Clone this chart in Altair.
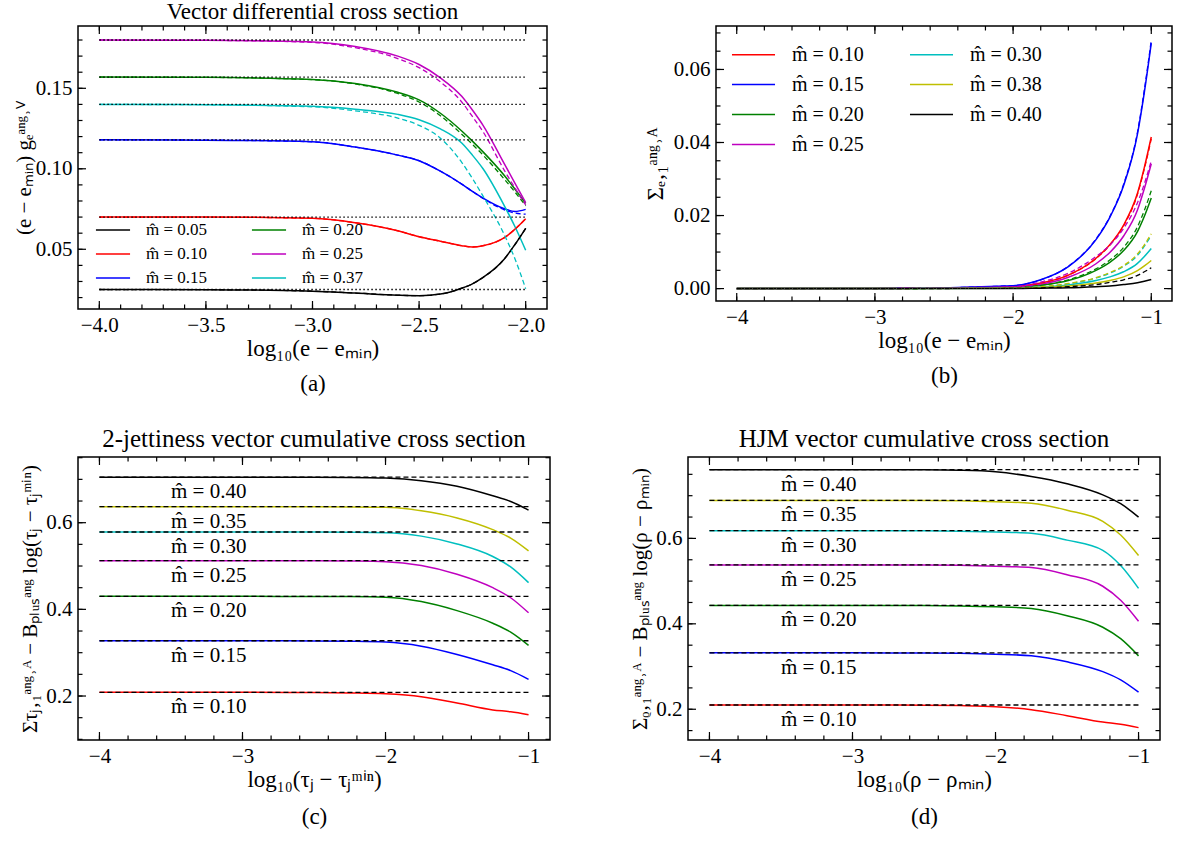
import altair as alt
import pandas as pd

FONT = "Liberation Serif"
R, B, G, M, C, Y, K = "#ff0000", "#0000ff", "#008000", "#bf00bf", "#00bfbf", "#bfbf00", "#000000"

# ---------------- panel (a) data ----------------
A_X = [-4.0, -3.5, -3.0, -2.8, -2.6, -2.5, -2.4, -2.3, -2.25, -2.2, -2.1, -2.05, -2.0]
A_SOLID = {
    "m̂ = 0.05": [0.0250, 0.0249, 0.0240, 0.0228, 0.0215, 0.0212, 0.0222, 0.0258, 0.0285, 0.0325, 0.0440, 0.0530, 0.0630],
    "m̂ = 0.10": [0.0700, 0.0700, 0.0692, 0.0665, 0.0615, 0.0578, 0.0550, 0.0522, 0.0514, 0.0522, 0.0572, 0.0625, 0.0690],
    "m̂ = 0.15": [0.1180, 0.1178, 0.1168, 0.1135, 0.1085, 0.1050, 0.0985, 0.0905, 0.0860, 0.0818, 0.0752, 0.0735, 0.0748],
    "m̂ = 0.20": [0.1570, 0.1568, 0.1555, 0.1530, 0.1475, 0.1428, 0.1345, 0.1235, 0.1172, 0.1105, 0.0958, 0.0873, 0.0785],
    "m̂ = 0.25": [0.1800, 0.1798, 0.1788, 0.1760, 0.1700, 0.1648, 0.1565, 0.1450, 0.1365, 0.1270, 0.1030, 0.0910, 0.0790],
    "m̂ = 0.37": [0.1400, 0.1398, 0.1388, 0.1370, 0.1338, 0.1305, 0.1248, 0.1160, 0.1085, 0.1000, 0.0770, 0.0640, 0.0494],
}
A_DASHED = {
    "m̂ = 0.05": [0.0250, 0.0249, 0.0240, 0.0228, 0.0215, 0.0212, 0.0222, 0.0258, 0.0285, 0.0325, 0.0440, 0.0530, 0.0630],
    "m̂ = 0.10": [0.0700, 0.0700, 0.0692, 0.0665, 0.0615, 0.0578, 0.0550, 0.0522, 0.0514, 0.0522, 0.0572, 0.0625, 0.0690],
    "m̂ = 0.15": [0.1180, 0.1178, 0.1168, 0.1135, 0.1085, 0.1050, 0.0985, 0.0905, 0.0860, 0.0816, 0.0745, 0.0725, 0.0718],
    "m̂ = 0.20": [0.1570, 0.1568, 0.1554, 0.1527, 0.1468, 0.1415, 0.1330, 0.1215, 0.1152, 0.1085, 0.0935, 0.0855, 0.0770],
    "m̂ = 0.25": [0.1800, 0.1798, 0.1785, 0.1752, 0.1685, 0.1628, 0.1540, 0.1415, 0.1325, 0.1230, 0.0990, 0.0880, 0.0775],
    "m̂ = 0.37": [0.1400, 0.1398, 0.1385, 0.1360, 0.1315, 0.1270, 0.1190, 0.1040, 0.0940, 0.0830, 0.0590, 0.0440, 0.0255],
}
A_DOTTED = [0.025, 0.070, 0.118, 0.140, 0.157, 0.180]
A_ORDER = ["m̂ = 0.05", "m̂ = 0.10", "m̂ = 0.15", "m̂ = 0.20", "m̂ = 0.25", "m̂ = 0.37"]
A_COLORS = [K, R, B, G, M, C]
A_XTICKS = [-4.0, -3.5, -3.0, -2.5, -2.0]
A_YTICKS = [0.05, 0.10, 0.15]

# ---------------- panel (b) data ----------------
B_X = [-4.0, -3.0, -2.0, -1.8, -1.6, -1.4, -1.3, -1.2, -1.1, -1.05, -1.0]
B_SOLID = {
    "m̂ = 0.10": [0, 0, 0.0005, 0.0015, 0.0037, 0.0083, 0.0120, 0.0174, 0.0261, 0.0332, 0.0415],
    "m̂ = 0.15": [0, 0, 0.0008, 0.0024, 0.0060, 0.0134, 0.0195, 0.0282, 0.0423, 0.0538, 0.0672],
    "m̂ = 0.20": [0, 0, 0.0003, 0.0009, 0.0022, 0.0050, 0.0072, 0.0104, 0.0156, 0.0198, 0.0248],
    "m̂ = 0.25": [0, 0, 0.0004, 0.0012, 0.0031, 0.0068, 0.0099, 0.0144, 0.0215, 0.0274, 0.0342],
    "m̂ = 0.30": [0, 0, 0.0001, 0.0004, 0.0010, 0.0022, 0.0032, 0.0046, 0.0069, 0.0088, 0.0110],
    "m̂ = 0.38": [0, 0, 0.0001, 0.0003, 0.0007, 0.0015, 0.0022, 0.0032, 0.0049, 0.0062, 0.0077],
    "m̂ = 0.40": [0, 0, 0.0000, 0.0001, 0.0002, 0.0005, 0.0007, 0.0011, 0.0016, 0.0020, 0.0025],
}
B_DASHED = {
    "m̂ = 0.10": [0, 0, 0.0005, 0.0015, 0.0037, 0.0082, 0.0119, 0.0172, 0.0258, 0.0328, 0.0410],
    "m̂ = 0.15": [0, 0, 0.0008, 0.0024, 0.0061, 0.0136, 0.0197, 0.0286, 0.0428, 0.0544, 0.0680],
    "m̂ = 0.20": [0, 0, 0.0003, 0.0009, 0.0024, 0.0054, 0.0078, 0.0113, 0.0169, 0.0214, 0.0268],
    "m̂ = 0.25": [0, 0, 0.0005, 0.0018, 0.0042, 0.0088, 0.0119, 0.0165, 0.0235, 0.0287, 0.0350],
    "m̂ = 0.30": [0, 0, 0.0002, 0.0005, 0.0013, 0.0029, 0.0042, 0.0061, 0.0091, 0.0116, 0.0145],
    "m̂ = 0.38": [0, 0, 0.0002, 0.0005, 0.0014, 0.0030, 0.0044, 0.0063, 0.0095, 0.0120, 0.0150],
    "m̂ = 0.40": [0, 0, 0.0001, 0.0002, 0.0005, 0.0011, 0.0017, 0.0024, 0.0036, 0.0046, 0.0057],
}
B_ORDER = ["m̂ = 0.10", "m̂ = 0.15", "m̂ = 0.20", "m̂ = 0.25", "m̂ = 0.30", "m̂ = 0.38", "m̂ = 0.40"]
B_COLORS = [R, B, G, M, C, Y, K]
B_XTICKS = [-4, -3, -2, -1]
B_YTICKS = [0.00, 0.02, 0.04, 0.06]

# ---------------- panels (c), (d) data ----------------
CD_X = [-4.0, -3.0, -2.5, -2.25, -2.0, -1.75, -1.5, -1.25, -1.125, -1.0]
CD_NAMES = ["m̂ = 0.10", "m̂ = 0.15", "m̂ = 0.20", "m̂ = 0.25", "m̂ = 0.30", "m̂ = 0.35", "m̂ = 0.40"]
CD_COLORS = [R, B, G, M, C, Y, K]
C_SOLID = {
    "m̂ = 0.10": [0.2085, 0.2085, 0.2080, 0.2070, 0.2050, 0.1985, 0.1840, 0.1680, 0.1636, 0.1570],
    "m̂ = 0.15": [0.3276, 0.3276, 0.3272, 0.3265, 0.3245, 0.3150, 0.2960, 0.2720, 0.2586, 0.2385],
    "m̂ = 0.20": [0.4300, 0.4300, 0.4298, 0.4295, 0.4280, 0.4180, 0.3970, 0.3680, 0.3476, 0.3170],
    "m̂ = 0.25": [0.5123, 0.5123, 0.5120, 0.5115, 0.5100, 0.5010, 0.4810, 0.4500, 0.4268, 0.3920],
    "m̂ = 0.30": [0.5785, 0.5785, 0.5783, 0.5780, 0.5770, 0.5690, 0.5510, 0.5220, 0.4978, 0.4616],
    "m̂ = 0.35": [0.6370, 0.6370, 0.6368, 0.6365, 0.6355, 0.6275, 0.6110, 0.5840, 0.5644, 0.5350],
    "m̂ = 0.40": [0.7050, 0.7050, 0.7048, 0.7045, 0.7030, 0.6970, 0.6840, 0.6620, 0.6488, 0.6290],
}
C_PLATEAU = [0.2085, 0.3276, 0.4300, 0.5123, 0.5785, 0.6370, 0.7050]
D_SOLID = {
    "m̂ = 0.10": [0.2100, 0.2100, 0.2095, 0.2085, 0.2060, 0.1990, 0.1850, 0.1700, 0.1648, 0.1570],
    "m̂ = 0.15": [0.3320, 0.3320, 0.3318, 0.3310, 0.3290, 0.3250, 0.3110, 0.2880, 0.2688, 0.2400],
    "m̂ = 0.20": [0.4430, 0.4430, 0.4428, 0.4420, 0.4400, 0.4360, 0.4190, 0.3920, 0.3652, 0.3250],
    "m̂ = 0.25": [0.5380, 0.5380, 0.5378, 0.5370, 0.5350, 0.5320, 0.5150, 0.4880, 0.4552, 0.4060],
    "m̂ = 0.30": [0.6180, 0.6180, 0.6178, 0.6170, 0.6150, 0.6120, 0.5960, 0.5720, 0.5364, 0.4830],
    "m̂ = 0.35": [0.6890, 0.6890, 0.6888, 0.6880, 0.6860, 0.6825, 0.6660, 0.6400, 0.6080, 0.5600],
    "m̂ = 0.40": [0.7610, 0.7610, 0.7605, 0.7595, 0.7560, 0.7450, 0.7280, 0.7020, 0.6812, 0.6500],
}
D_PLATEAU = [0.2100, 0.3320, 0.4430, 0.5380, 0.6180, 0.6890, 0.7610]
CD_XTICKS = [-4, -3, -2, -1]
CD_YTICKS = [0.2, 0.4, 0.6]
LABEL_X = -3.5


def long_df(xs, series):
    rows = []
    for name, vals in series.items():
        for x, v in zip(xs, vals):
            rows.append({"x": x, "y": v, "s": name})
    return pd.DataFrame(rows)


def steps(a, b, step):
    n = int(round((b - a) / step))
    return [round(a + i * step, 4) for i in range(n + 1)]


def frame_ticks(xs, ys, xax, yax, xmaj, xmin, ymaj, ymin, W, H):
    layers = []
    for vals, L in ((xmaj, 8), (xmin, 4.5)):
        base = alt.Chart(pd.DataFrame({"x": vals})).mark_rule(color="black", strokeWidth=1.2)
        xe = alt.X("x:Q", scale=xs, axis=xax)
        layers.append(base.encode(x=xe, y=alt.value(H), y2=alt.value(H - L)))
        layers.append(base.encode(x=xe, y=alt.value(0), y2=alt.value(L)))
    for vals, L in ((ymaj, 8), (ymin, 4.5)):
        base = alt.Chart(pd.DataFrame({"y": vals})).mark_rule(color="black", strokeWidth=1.2)
        ye = alt.Y("y:Q", scale=ys, axis=yax)
        layers.append(base.encode(y=ye, x=alt.value(0), x2=alt.value(L)))
        layers.append(base.encode(y=ye, x=alt.value(W), x2=alt.value(W - L)))
    return layers


def xaxis(values, fmt, title, lh):
    return alt.Axis(values=values, format=fmt, ticks=False, domain=False, grid=False,
                    labelFlush=False, labelPadding=5, labelFontSize=21, labelFont=FONT,
                    labelColor="black", title=title, titleFont=FONT, titleFontSize=23,
                    titleFontWeight="normal", titleColor="black", titlePadding=2,
                    titleLineHeight=lh)


def yaxis(values, fmt, title, ext, tpad, tsize=21):
    return alt.Axis(values=values, format=fmt, ticks=False, domain=False, grid=False,
                    labelFlush=False, labelPadding=6, labelFontSize=21, labelFont=FONT,
                    labelColor="black", title=title, titleFont=FONT, titleFontSize=tsize,
                    titleFontWeight="normal", titleColor="black", titlePadding=tpad,
                    minExtent=ext, maxExtent=ext)


def line_layer(df, xs, ys, cscale, xax, yax, legend=None, dash=None, sw=1.5):
    kw = dict(strokeWidth=sw, interpolate="monotone")
    if dash is not None:
        kw["strokeDash"] = dash
    return alt.Chart(df).mark_line(**kw).encode(
        x=alt.X("x:Q", scale=xs, axis=xax),
        y=alt.Y("y:Q", scale=ys, axis=yax),
        color=alt.Color("s:N", scale=cscale, legend=legend),
    )


# ---------------- panel (a) ----------------
WA, HA = 469, 283
xs_a = alt.Scale(domain=[-4.1, -1.9], nice=False, zero=False)
ys_a = alt.Scale(domain=[0.0129, 0.1887], nice=False, zero=False)
cs_a = alt.Scale(domain=A_ORDER, range=A_COLORS)
xa_a = xaxis(A_XTICKS, ".1f", ["log₁₀(e − eₘᵢₙ)", "(a)"], 35)
ya_a = yaxis(A_YTICKS, ".2f", "(e − eₘᵢₙ) gₑᵃⁿᵍ˒ⱽ", 40, 4)
leg_a = alt.Legend(orient="none", legendX=19, legendY=188, columns=2,
                   symbolType="M-1.15,0L1.15,0", symbolSize=880, symbolStrokeWidth=1.5,
                   labelFont=FONT, labelFontSize=17, labelColor="black", title=None,
                   rowPadding=0, columnPadding=40, labelOffset=17, padding=0)
a_layers = [
    line_layer(long_df(A_X, A_SOLID), xs_a, ys_a, cs_a, xa_a, ya_a, legend=leg_a),
    line_layer(long_df(A_X, A_DASHED), xs_a, ys_a, cs_a, xa_a, ya_a, dash=[5, 3], sw=1.3),
    alt.Chart(pd.DataFrame({"y": A_DOTTED, "x": [-4.0] * 6, "x1": [-2.0] * 6}))
    .mark_rule(color="black", strokeWidth=1.3, strokeDash=[1.5, 2.5])
    .encode(x=alt.X("x:Q", scale=xs_a, axis=xa_a), x2="x1:Q",
            y=alt.Y("y:Q", scale=ys_a, axis=ya_a)),
] + frame_ticks(xs_a, ys_a, xa_a, ya_a, A_XTICKS, steps(-4.0, -2.0, 0.1), A_YTICKS,
                steps(0.02, 0.18, 0.01), WA, HA)
panel_a = alt.layer(*a_layers).properties(
    width=WA, height=HA,
    title=alt.TitleParams("Vector differential cross section", font=FONT, fontSize=23,
                          fontWeight="normal", color="black", offset=1))

# ---------------- panel (b) ----------------
WB, HB = 456, 275
xs_b = alt.Scale(domain=[-4.15, -0.85], nice=False, zero=False)
ys_b = alt.Scale(domain=[-0.0034, 0.0719], nice=False, zero=False)
cs_b = alt.Scale(domain=B_ORDER, range=B_COLORS)
xa_b = xaxis(B_XTICKS, "d", ["log₁₀(e − eₘᵢₙ)", "(b)"], 35)
ya_b = yaxis(B_YTICKS, ".2f", "Σₑ‚₁ᵃⁿᵍ˒ᴬ", 43, 6, 23)
leg_b = alt.Legend(orient="none", legendX=18, legendY=9, columns=2,
                   symbolType="M-1.15,0L1.15,0", symbolSize=1400, symbolStrokeWidth=1.5,
                   labelFont=FONT, labelFontSize=20, labelColor="black", title=None,
                   rowPadding=0, columnPadding=42, labelOffset=19, padding=0)
b_layers = [
    line_layer(long_df(B_X, B_SOLID), xs_b, ys_b, cs_b, xa_b, ya_b, legend=leg_b),
    line_layer(long_df(B_X, B_DASHED), xs_b, ys_b, cs_b, xa_b, ya_b, dash=[5, 3], sw=1.3),
] + frame_ticks(xs_b, ys_b, xa_b, ya_b, B_XTICKS, steps(-4.0, -1.0, 0.2), B_YTICKS,
                steps(0.0, 0.07, 0.005), WB, HB)
panel_b = alt.layer(*b_layers).properties(width=WB, height=HB)


# ---------------- panels (c), (d) ----------------
def cum_panel(W, H, ydom, solid, plateau, xtitle, ytitle, title, ext, tpad):
    xs = alt.Scale(domain=[-4.15, -0.85], nice=False, zero=False)
    ys = alt.Scale(domain=ydom, nice=False, zero=False)
    cs = alt.Scale(domain=CD_NAMES, range=CD_COLORS)
    xax = xaxis(CD_XTICKS, "d", xtitle, 37)
    yax = yaxis(CD_YTICKS, ".1f", ytitle, ext, tpad)
    n = len(plateau)
    ref = pd.DataFrame({"y": plateau, "x": [-4.0] * n, "x1": [-1.0] * n})
    lab = pd.DataFrame({"y": plateau, "x": [LABEL_X] * n, "t": CD_NAMES})
    layers = [
        line_layer(long_df(CD_X, solid), xs, ys, cs, xax, yax),
        alt.Chart(ref).mark_rule(color="black", strokeWidth=1.3, strokeDash=[5, 3]).encode(
            x=alt.X("x:Q", scale=xs, axis=xax), x2="x1:Q", y=alt.Y("y:Q", scale=ys, axis=yax)),
        alt.Chart(lab).mark_text(align="left", baseline="middle", dy=15, font=FONT, fontSize=21,
                                 color="black").encode(
            x=alt.X("x:Q", scale=xs, axis=xax), y=alt.Y("y:Q", scale=ys, axis=yax), text="t:N"),
    ] + frame_ticks(xs, ys, xax, yax, CD_XTICKS, steps(-4.0, -1.0, 0.2), CD_YTICKS,
                    [v for v in steps(0.1, 0.75, 0.05) if ydom[0] <= v <= ydom[1]], W, H)
    return alt.layer(*layers).properties(
        width=W, height=H,
        title=alt.TitleParams(title, font=FONT, fontSize=25, fontWeight="normal",
                              color="black", offset=4))


panel_c = cum_panel(472, 283, [0.0985, 0.7516], C_SOLID, C_PLATEAU,
                    ["log₁₀(τⱼ − τⱼᵐⁱⁿ)", "(c)"],
                    "Στⱼ‚₁ᵃⁿᵍ˒ᴬ − Bₚₗᵤₛᵃⁿᵍ log(τⱼ − τⱼᵐⁱⁿ)",
                    "2-jettiness vector cumulative cross section", 35, 3)
panel_d = cum_panel(472, 283, [0.128, 0.7906], D_SOLID, D_PLATEAU,
                    ["log₁₀(ρ − ρₘᵢₙ)", "(d)"],
                    "Σᵨ‚₁ᵃⁿᵍ˒ᴬ − Bₚₗᵤₛᵃⁿᵍ log(ρ − ρₘᵢₙ)",
                    "HJM vector cumulative cross section", 33, 5)

row1 = alt.hconcat(panel_a, panel_b, spacing=94).resolve_scale(color="independent").resolve_legend(color="independent")
row2 = alt.hconcat(panel_c, panel_d, spacing=76).resolve_scale(color="independent")
chart = alt.vconcat(row1, row2, spacing=30).resolve_scale(color="independent").resolve_legend(color="independent").properties(
    padding={"left": 12, "top": 0, "right": 0, "bottom": 0},
    background="white",
).configure_view(stroke="black", strokeWidth=1.5)

chart.save("out.html", embed_options={"renderer": "svg", "actions": False})
